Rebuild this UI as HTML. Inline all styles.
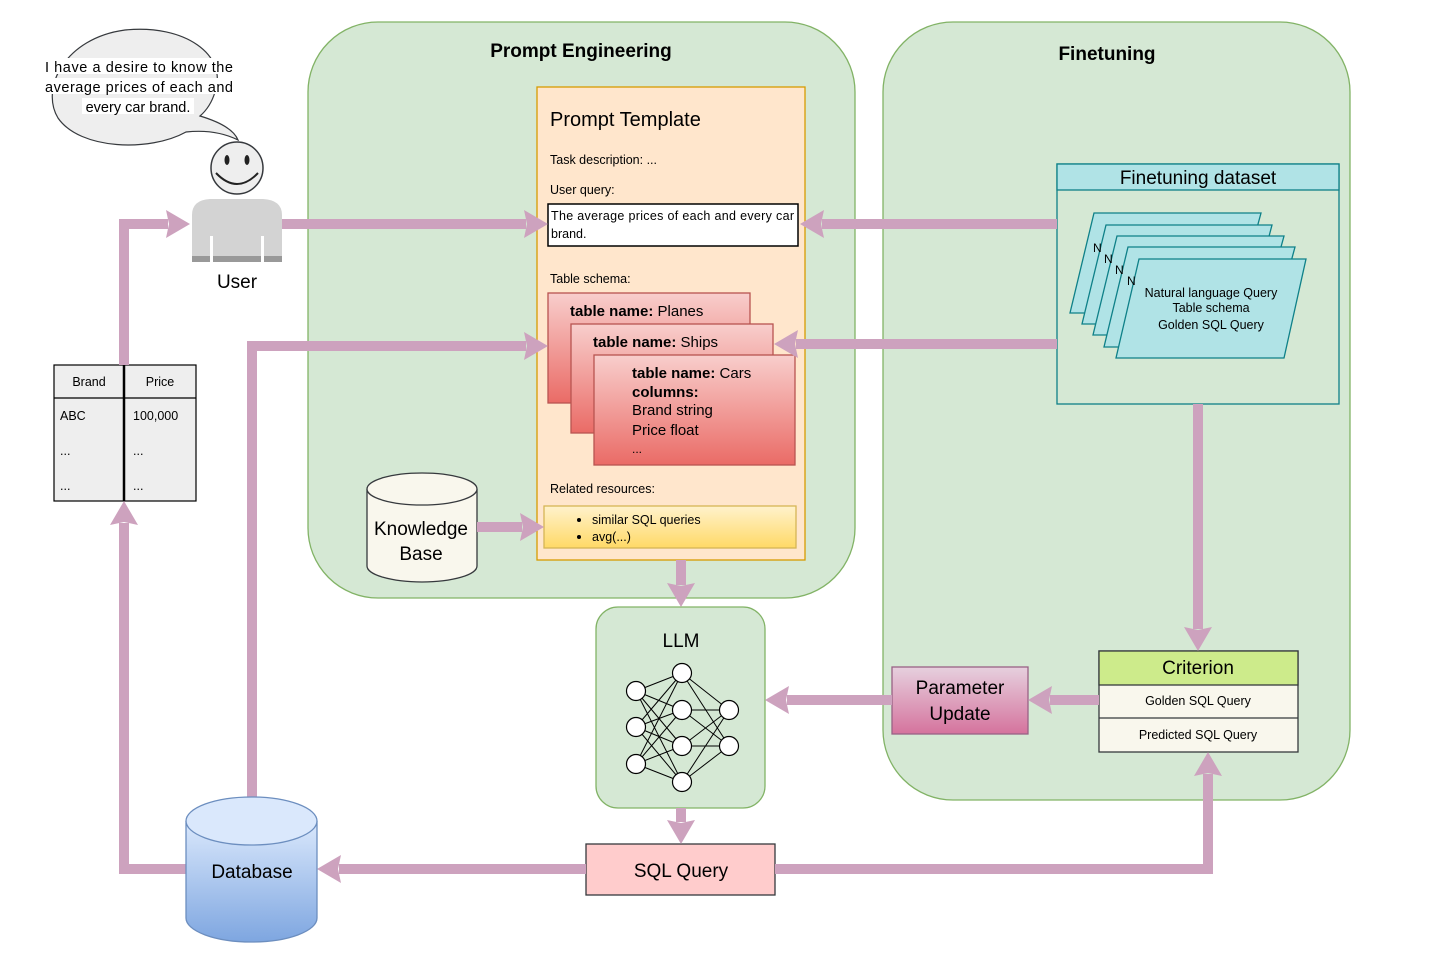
<!DOCTYPE html>
<html><head><meta charset="utf-8"><style>
html,body{margin:0;padding:0;background:#fff;}
svg{display:block;font-family:"Liberation Sans",Arial,sans-serif;}
</style></head><body>
<svg width="1435" height="968" viewBox="0 0 1435 968" xmlns="http://www.w3.org/2000/svg">
<defs>
<marker id="ah" markerUnits="userSpaceOnUse" markerWidth="26" markerHeight="28" refX="2" refY="14" orient="auto">
<path d="M0,0 L24,14 L0,28 L3,14 Z" fill="#cda2be"/>
</marker>
<linearGradient id="red" x1="0" y1="0" x2="0" y2="1"><stop offset="0" stop-color="#f8cecc"/><stop offset="1" stop-color="#ea6b66"/></linearGradient>
<linearGradient id="yel" x1="0" y1="0" x2="0" y2="1"><stop offset="0" stop-color="#fff2cc"/><stop offset="1" stop-color="#ffd966"/></linearGradient>
<linearGradient id="pink" x1="0" y1="0" x2="0" y2="1"><stop offset="0" stop-color="#e6d0de"/><stop offset="1" stop-color="#d5739d"/></linearGradient>
<linearGradient id="blue" x1="0" y1="0" x2="0" y2="1"><stop offset="0" stop-color="#dae8fc"/><stop offset="1" stop-color="#7ea6e0"/></linearGradient>
</defs>

<rect x="308" y="22" width="547" height="576" rx="70" fill="#d5e8d4" stroke="#82b366" stroke-width="1.3"/>
<text x="581" y="57" font-size="19" font-weight="bold" text-anchor="middle">Prompt Engineering</text>
<rect x="883" y="22" width="467" height="778" rx="70" fill="#d5e8d4" stroke="#82b366" stroke-width="1.3"/>
<text x="1107" y="60" font-size="19" font-weight="bold" text-anchor="middle">Finetuning</text>

<rect x="537" y="87" width="268" height="473" fill="#ffe6cc" stroke="#d79b00" stroke-width="1.3"/>
<text x="550" y="126" font-size="20">Prompt Template</text>
<text x="550" y="164" font-size="12.5">Task description: ...</text>
<text x="550" y="194" font-size="12.5">User query:</text>
<rect x="548" y="204" width="250" height="42" fill="#fff" stroke="#000" stroke-width="1.5"/>
<text x="551" y="220" font-size="12.5" textLength="243">The average prices of each and every car</text>
<text x="551" y="238" font-size="12.5">brand.</text>
<text x="550" y="283" font-size="12.5">Table schema:</text>
<rect x="548" y="293" width="202" height="110" fill="url(#red)" stroke="#b85450" stroke-width="1.3"/>
<text x="570" y="316" font-size="15"><tspan font-weight="bold">table name:</tspan> Planes</text>
<rect x="571" y="324" width="202" height="109" fill="url(#red)" stroke="#b85450" stroke-width="1.3"/>
<text x="593" y="347" font-size="15"><tspan font-weight="bold">table name:</tspan> Ships</text>
<rect x="594" y="355" width="201" height="110" fill="url(#red)" stroke="#b85450" stroke-width="1.3"/>
<text x="632" y="378" font-size="15"><tspan font-weight="bold">table name:</tspan> Cars</text>
<text x="632" y="397" font-size="15" font-weight="bold">columns:</text>
<text x="632" y="415" font-size="15">Brand string</text>
<text x="632" y="435" font-size="15">Price float</text>
<text x="632" y="453" font-size="12">...</text>
<text x="550" y="493" font-size="12.5">Related resources:</text>
<rect x="544" y="506" width="252" height="42" fill="url(#yel)" stroke="#d6b656" stroke-width="1.3"/>
<circle cx="579" cy="520" r="2" fill="#000"/><circle cx="579" cy="537" r="2" fill="#000"/>
<text x="592" y="524" font-size="12.5">similar SQL queries</text>
<text x="592" y="541" font-size="12.5">avg(...)</text>

<path d="M367,489 V566 A55,16 0 0 0 477,566 V489" fill="#f9f7ed" stroke="#36393d" stroke-width="1.3"/>
<ellipse cx="422" cy="489" rx="55" ry="16" fill="#f9f7ed" stroke="#36393d" stroke-width="1.3"/>
<text x="421" y="535" font-size="19" text-anchor="middle">Knowledge</text>
<text x="421" y="560" font-size="19" text-anchor="middle">Base</text>

<!-- bubble -->
<path d="M200,116 C220,122 234,130 238,140 C222,132 205,130 186,132 C150,152 80,150 58,118 C40,88 65,38 125,30 C185,24 228,55 215,92 C212,102 207,110 200,116 Z" fill="#eeeeee" stroke="#36393d" stroke-width="1.2"/>
<rect x="44" y="57" width="190" height="60" fill="#fff" opacity="0.0"/>
<rect x="44" y="58" width="190" height="16" fill="#fff"/>
<rect x="44" y="78" width="190" height="16" fill="#fff"/>
<rect x="82" y="98" width="112" height="16" fill="#fff"/>
<text x="139" y="72" font-size="14.5" text-anchor="middle" textLength="188">I have a desire to know the</text>
<text x="139" y="92" font-size="14.5" text-anchor="middle" textLength="188">average prices of each and</text>
<text x="138" y="112" font-size="14.5" text-anchor="middle">every car brand.</text>

<path d="M192,262 V215 Q192,200 210,199 H263 Q282,200 282,215 V262 Z" fill="#d3d3d3"/>
<rect x="192" y="256" width="90" height="6" fill="#999"/>
<rect x="210" y="236" width="3" height="26" fill="#fff"/><rect x="261" y="236" width="3" height="26" fill="#fff"/>
<circle cx="237" cy="168" r="26" fill="#eee" stroke="#36393d" stroke-width="1.5"/>
<ellipse cx="227" cy="160" rx="2.5" ry="5" fill="#222"/><ellipse cx="247" cy="160" rx="2.5" ry="5" fill="#222"/>
<path d="M216,173 Q237,195 258,173" fill="none" stroke="#222" stroke-width="2"/>
<text x="237" y="288" font-size="19" text-anchor="middle">User</text>

<rect x="54" y="365" width="142" height="136" fill="#eeeeee" stroke="#000" stroke-width="1.2"/>
<line x1="54" y1="398" x2="196" y2="398" stroke="#000" stroke-width="1.2"/>
<line x1="124" y1="365" x2="124" y2="501" stroke="#000" stroke-width="2.5"/>
<text x="89" y="386" font-size="12.5" text-anchor="middle">Brand</text>
<text x="160" y="386" font-size="12.5" text-anchor="middle">Price</text>
<text x="60" y="420" font-size="12.5">ABC</text><text x="133" y="420" font-size="12.5">100,000</text>
<text x="60" y="455" font-size="12.5">...</text><text x="133" y="455" font-size="12.5">...</text>
<text x="60" y="490" font-size="12.5">...</text><text x="133" y="490" font-size="12.5">...</text>

<rect x="1057" y="164" width="282" height="240" fill="#d5e8d4" stroke="#0e8088" stroke-width="1.3"/>
<rect x="1057" y="164" width="282" height="26" fill="#b0e3e6" stroke="#0e8088" stroke-width="1.3"/>
<text x="1198" y="184" font-size="19" text-anchor="middle">Finetuning dataset</text>
<g fill="#b0e3e6" stroke="#0e8088" stroke-width="1.3">
<path d="M1094,213 H1261 L1234,313 H1070 Z"/>
<path d="M1106,225 H1272 L1246,324 H1082 Z"/>
<path d="M1117,236 H1284 L1257,335 H1093 Z"/>
<path d="M1128,247 H1295 L1268,347 H1104 Z"/>
<path d="M1139,259 H1306 L1284,358 H1116 Z"/>
</g>
<text x="1093" y="252" font-size="12">N</text><text x="1104" y="263" font-size="12">N</text><text x="1115" y="274" font-size="12">N</text><text x="1127" y="285" font-size="12">N</text>
<text x="1211" y="297" font-size="12.5" text-anchor="middle">Natural language Query</text>
<text x="1211" y="312" font-size="12.5" text-anchor="middle">Table schema</text>
<text x="1211" y="329" font-size="12.5" text-anchor="middle">Golden SQL Query</text>

<rect x="1099" y="651" width="199" height="101" fill="#f9f7ed" stroke="#36393d" stroke-width="1.3"/>
<rect x="1099" y="651" width="199" height="34" fill="#cdeb8b" stroke="#36393d" stroke-width="1.3"/>
<line x1="1099" y1="718" x2="1298" y2="718" stroke="#36393d" stroke-width="1.3"/>
<text x="1198" y="674" font-size="19" text-anchor="middle">Criterion</text>
<text x="1198" y="705" font-size="12.5" text-anchor="middle">Golden SQL Query</text>
<text x="1198" y="739" font-size="12.5" text-anchor="middle">Predicted SQL Query</text>

<rect x="892" y="667" width="136" height="67" fill="url(#pink)" stroke="#996185" stroke-width="1.3"/>
<text x="960" y="694" font-size="19" text-anchor="middle">Parameter</text>
<text x="960" y="720" font-size="19" text-anchor="middle">Update</text>

<rect x="596" y="607" width="169" height="201" rx="22" fill="#d5e8d4" stroke="#82b366" stroke-width="1.3"/>
<text x="681" y="647" font-size="19" text-anchor="middle">LLM</text>
<g stroke="#000" stroke-width="1">
<line x1="636" y1="691" x2="682" y2="673"/><line x1="636" y1="691" x2="682" y2="710"/><line x1="636" y1="691" x2="682" y2="746"/><line x1="636" y1="691" x2="682" y2="782"/>
<line x1="636" y1="727" x2="682" y2="673"/><line x1="636" y1="727" x2="682" y2="710"/><line x1="636" y1="727" x2="682" y2="746"/><line x1="636" y1="727" x2="682" y2="782"/>
<line x1="636" y1="764" x2="682" y2="673"/><line x1="636" y1="764" x2="682" y2="710"/><line x1="636" y1="764" x2="682" y2="746"/><line x1="636" y1="764" x2="682" y2="782"/>
<line x1="682" y1="673" x2="729" y2="710"/><line x1="682" y1="673" x2="729" y2="746"/>
<line x1="682" y1="710" x2="729" y2="710"/><line x1="682" y1="710" x2="729" y2="746"/>
<line x1="682" y1="746" x2="729" y2="710"/><line x1="682" y1="746" x2="729" y2="746"/>
<line x1="682" y1="782" x2="729" y2="710"/><line x1="682" y1="782" x2="729" y2="746"/>
</g>
<g fill="#fff" stroke="#000" stroke-width="1.2">
<circle cx="636" cy="691" r="9.5"/><circle cx="636" cy="727" r="9.5"/><circle cx="636" cy="764" r="9.5"/>
<circle cx="682" cy="673" r="9.5"/><circle cx="682" cy="710" r="9.5"/><circle cx="682" cy="746" r="9.5"/><circle cx="682" cy="782" r="9.5"/>
<circle cx="729" cy="710" r="9.5"/><circle cx="729" cy="746" r="9.5"/>
</g>

<rect x="586" y="844" width="189" height="51" fill="#ffcccc" stroke="#36393d" stroke-width="1.3"/>
<text x="681" y="877" font-size="19" text-anchor="middle">SQL Query</text>

<g fill="none" stroke="#cda2be" stroke-width="10" stroke-linejoin="miter">
<path d="M124,365 V224 H168" marker-end="url(#ah)"/>
<path d="M282,224 H526" marker-end="url(#ah)"/>
<path d="M1057,224 H822" marker-end="url(#ah)"/>
<path d="M252,797 V346 H526" marker-end="url(#ah)"/>
<path d="M1057,344 H796" marker-end="url(#ah)"/>
<path d="M477,527 H522" marker-end="url(#ah)"/>
<path d="M681,560 V585" marker-end="url(#ah)"/>
<path d="M1198,404 V629" marker-end="url(#ah)"/>
<path d="M1099,700 H1050" marker-end="url(#ah)"/>
<path d="M892,700 H787" marker-end="url(#ah)"/>
<path d="M681,808 V822" marker-end="url(#ah)"/>
<path d="M586,869 H339" marker-end="url(#ah)"/>
<path d="M775,869 H1208 V774" marker-end="url(#ah)"/>
<path d="M186,869 H124 V523" marker-end="url(#ah)"/>
</g>

<path d="M186,821 V918 A65.5,24 0 0 0 317,918 V821" fill="url(#blue)" stroke="#6c8ebf" stroke-width="1.3"/>
<ellipse cx="251.5" cy="821" rx="65.5" ry="24" fill="#dae8fc" stroke="#6c8ebf" stroke-width="1.3"/>
<text x="252" y="878" font-size="19" text-anchor="middle">Database</text>
</svg>
</body></html>
